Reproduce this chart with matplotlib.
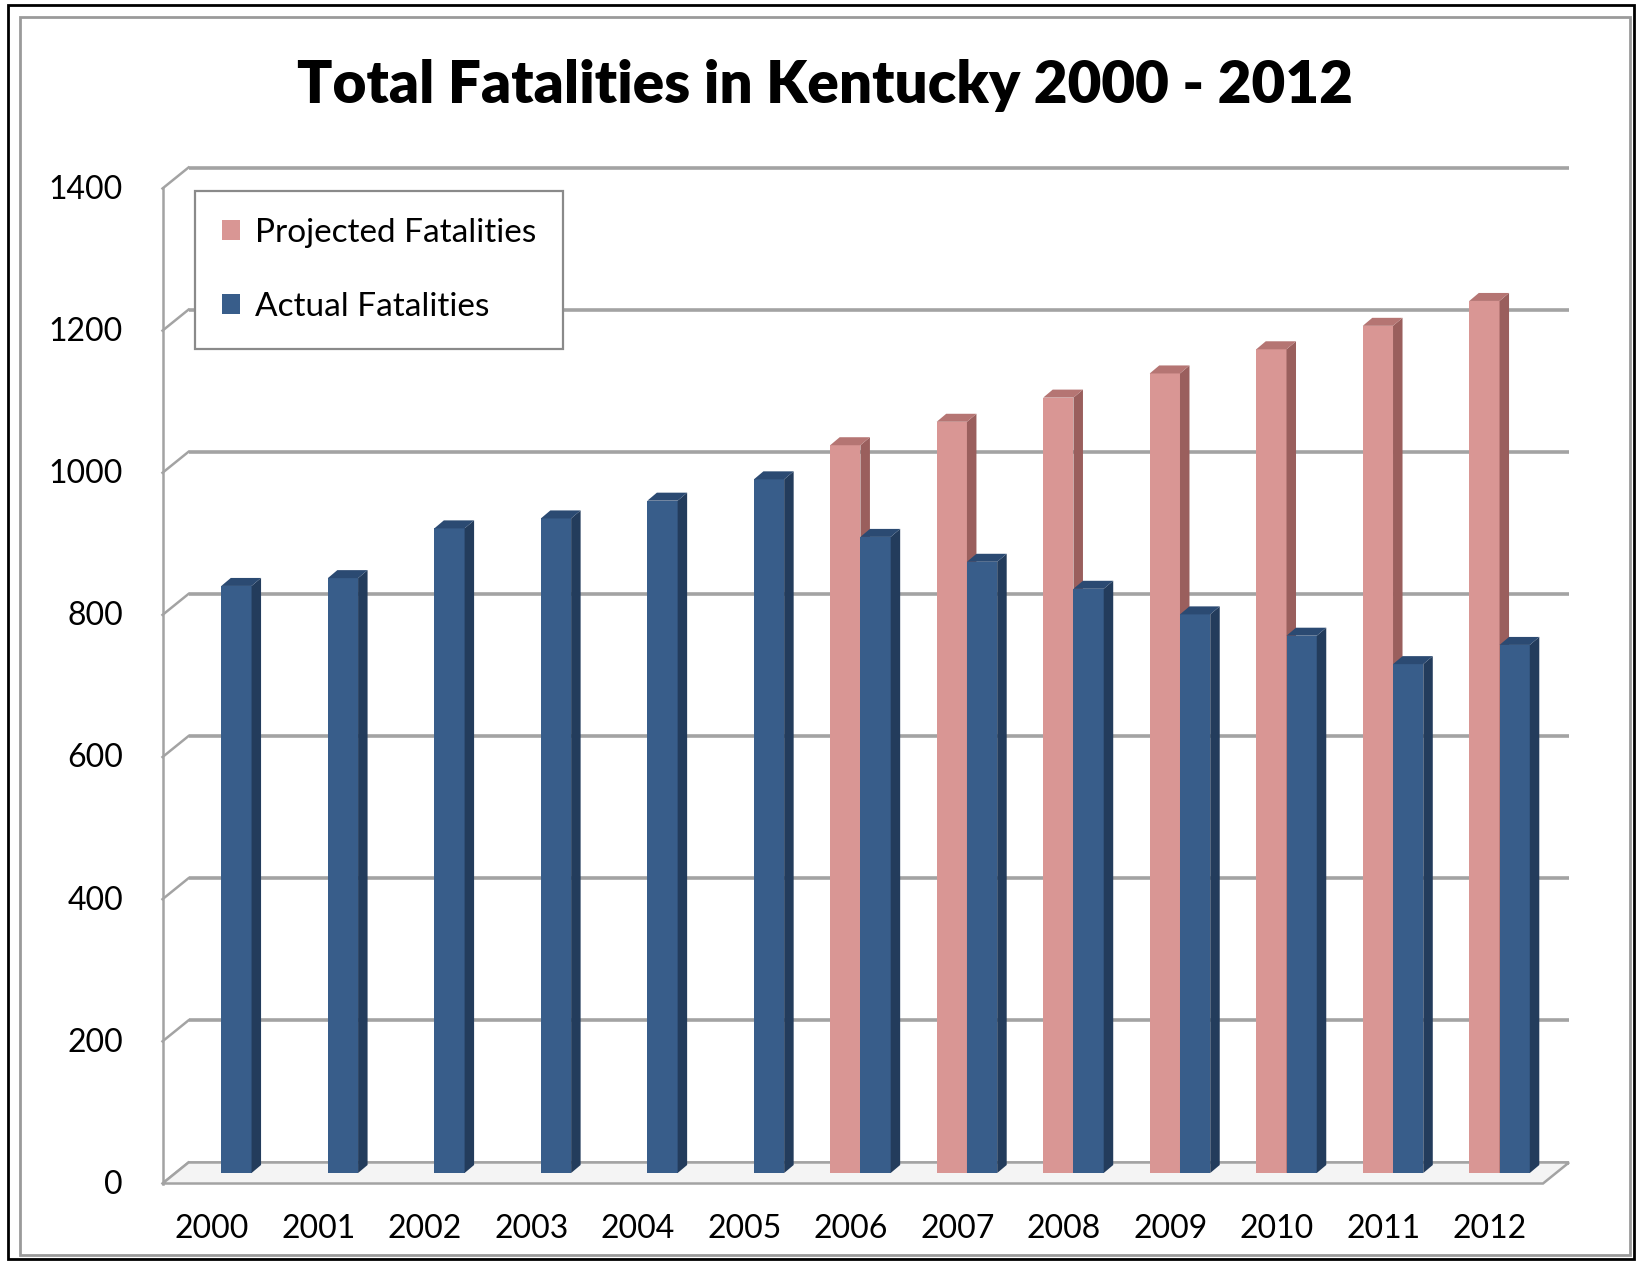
import matplotlib
matplotlib.use('Agg')
import matplotlib.pyplot as plt
from matplotlib.patches import Polygon, Rectangle, Patch

# ---------------- data ----------------
years = ['2000', '2001', '2002', '2003', '2004', '2005', '2006',
         '2007', '2008', '2009', '2010', '2011', '2012']
actual = [826, 837, 907, 921, 946, 976, 895, 860, 822, 786, 756, 716, 743]
projected = [0, 0, 0, 0, 0, 0, 1024, 1057, 1091, 1125, 1159, 1192, 1227]
yticks = [0, 200, 400, 600, 800, 1000, 1200, 1400]
title = 'Total Fatalities in Kentucky 2000 - 2012'
series_names = ['Projected Fatalities', 'Actual Fatalities']

# ---------------- style ----------------
W, H = 1638, 1262
FONT = 'Lato'
plt.rcParams['font.family'] = [FONT, 'DejaVu Sans']

blue_front, blue_side, blue_top = '#385d8a', '#233c5c', '#2b4a72'
pink_front, pink_side, pink_top = '#d99694', '#9a5f5d', '#b57573'
grid_col = '#a3a3a3'

fig = plt.figure(figsize=(W / 100, H / 100), dpi=100)
fig.patch.set_facecolor('white')

ax_left, ax_right, ax_bottom, ax_top = 175.5, 1556, 1173, 178
ax = fig.add_axes([ax_left / W, 1 - ax_bottom / H,
                   (ax_right - ax_left) / W, (ax_bottom - ax_top) / H])
xl, xr = -0.43, 12.53
ax.set_xlim(xl, xr)
ax.set_ylim(0, 1400)
ax.axis('off')

px_x = (ax_right - ax_left) / (xr - xl)
px_y = (ax_bottom - ax_top) / 1400.0
ddx = 13 / px_x       # half wall depth in data units
ddy = 10.5 / px_y

# back wall gridlines + left wall diagonals
for v in yticks:
    ax.plot([xl + ddx, xr + ddx], [v + ddy, v + ddy], color=grid_col, lw=2.6,
            solid_capstyle='butt', clip_on=False, zorder=1)
    ax.plot([xl - ddx, xl + ddx], [v - ddy, v + ddy], color=grid_col, lw=1.8,
            clip_on=False, zorder=1)
ax.plot([xl - ddx, xl - ddx], [-ddy, 1400 - ddy], color=grid_col, lw=1.8,
        clip_on=False, zorder=1)

# floor
floor = Polygon([(xl - ddx, -ddy), (xr - ddx, -ddy), (xr + ddx, ddy), (xl + ddx, ddy)],
                closed=True, facecolor='#f4f4f4', edgecolor=grid_col, lw=1.8,
                clip_on=False, zorder=1.5)
ax.add_patch(floor)

# bars
w = 0.284
sx = 9.5 / px_x
sy = 8.0 / px_y
xs = list(range(len(years)))


def deco(x0, h, side, top, z):
    if h <= 0:
        return
    ax.add_patch(Polygon([(x0 + w, 0), (x0 + w, h), (x0 + w + sx, h + sy), (x0 + w + sx, sy)],
                         closed=True, facecolor=side, edgecolor='none', zorder=z, clip_on=False))
    ax.add_patch(Polygon([(x0, h), (x0 + w, h), (x0 + w + sx, h + sy), (x0 + sx, h + sy)],
                         closed=True, facecolor=top, edgecolor='none', zorder=z, clip_on=False))


ax.bar([x - w / 2 for x in xs], projected, w, color=pink_front, zorder=3, clip_on=False)
for x, h in zip(xs, projected):
    deco(x - w, h, pink_side, pink_top, 3)
ax.bar([x + w / 2 for x in xs], actual, w, color=blue_front, zorder=4, clip_on=False)
for x, h in zip(xs, actual):
    deco(x, h, blue_side, blue_top, 4)

# y tick labels (front plane)
ylab_x = xl - (ax_left - 123) / px_x
for v in yticks:
    ax.text(ylab_x, v - ddy - 2, str(v), ha='right', va='center', fontsize=23,
            color='black', clip_on=False)

# x tick labels
xlab_y = -(1229 - ax_bottom) / px_y
for x, lab in zip(xs, years):
    ax.text(x - 0.09, xlab_y, lab, ha='center', va='center', fontsize=23,
            color='black', clip_on=False)

# title
fig.text(825 / W, 1 - 86 / H, title, ha='center', va='center', fontsize=42,
         fontweight='heavy', color='black')

# legend
handles = [Patch(facecolor=pink_front, edgecolor='none'),
           Patch(facecolor=blue_front, edgecolor='none')]
leg = fig.legend(handles, series_names, loc='upper left',
                 bbox_to_anchor=(195 / W, 1 - 191 / H), borderaxespad=0,
                 fontsize=24, frameon=True, fancybox=False,
                 handlelength=0.55, handleheight=0.55, handletextpad=0.45,
                 labelspacing=1.33, borderpad=0.8)
leg.get_frame().set_edgecolor('#8a8a8a')
leg.get_frame().set_linewidth(1.6)
leg.get_frame().set_facecolor('white')
leg.get_frame().set_alpha(1)

# borders
fig.add_artist(Rectangle((8 / W, 1 - 1259 / H), (1634 - 8) / W, (1259 - 5) / H,
                         transform=fig.transFigure, fill=False, ec='black', lw=2))
fig.add_artist(Rectangle((20 / W, 1 - 1255 / H), (1630 - 20) / W, (1255 - 17) / H,
                         transform=fig.transFigure, fill=False, ec='#9a9a9a', lw=2))

fig.savefig('out.png', dpi=100, facecolor='white')
